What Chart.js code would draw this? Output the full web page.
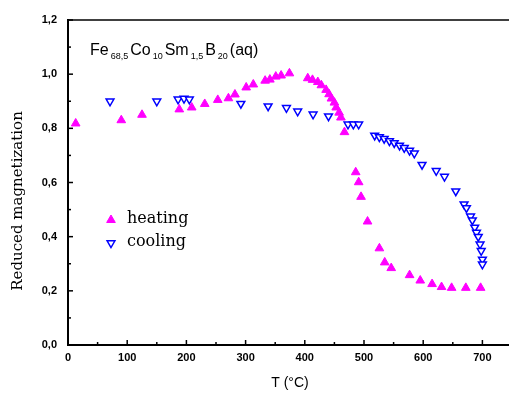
<!DOCTYPE html>
<html>
<head>
<meta charset="utf-8">
<script src="https://cdn.jsdelivr.net/npm/chart.js@4/dist/chart.umd.min.js"></script>
<style>
  html, body { margin: 0; padding: 0; background: #fff; overflow: hidden; }
  #wrap { width: 520px; height: 394px; }
</style>
</head>
<body>
<div id="wrap"><canvas id="magChart" width="520" height="394"></canvas></div>
<script>
// heating run (T in °C, reduced magnetization)
const heatingT = [13, 90, 125, 188, 209, 231, 253, 271, 282, 301, 313, 333, 341, 351, 360, 374,
    405, 413, 422, 428, 436, 441, 445, 450, 453, 458, 461, 467, 486, 491, 495, 506, 526, 535,
    546, 577, 595, 615, 631, 648, 672, 697];
const heatingM = [0.818, 0.83, 0.85, 0.87, 0.877, 0.89, 0.905, 0.911, 0.925, 0.951, 0.962, 0.976,
    0.98, 0.991, 0.995, 1.003, 0.985, 0.979, 0.971, 0.959, 0.942, 0.926, 0.91, 0.895, 0.877,
    0.858, 0.84, 0.786, 0.638, 0.601, 0.547, 0.456, 0.357, 0.305, 0.284, 0.258, 0.238, 0.225,
    0.214, 0.211, 0.211, 0.211];

// cooling run
const coolingT = [71, 150, 186, 196, 205, 292, 338, 369, 388, 414, 440, 473, 482, 491,
    518, 526, 534, 543, 551, 560, 568, 577, 585, 598, 622, 636, 655, 669, 673, 680, 683,
    687, 690, 693, 696, 698, 700, 700];
const coolingM = [0.90, 0.90, 0.907, 0.91, 0.907, 0.891, 0.882, 0.876, 0.863, 0.852, 0.845,
    0.815, 0.815, 0.815, 0.774, 0.768, 0.762, 0.753, 0.746, 0.737, 0.728, 0.718, 0.708,
    0.666, 0.643, 0.622, 0.568, 0.52, 0.506, 0.475, 0.461, 0.434, 0.415, 0.4, 0.372, 0.348,
    0.316, 0.298];

const seriesLabels = ['heating', 'cooling'];
const xTickLabels = ['0', '100', '200', '300', '400', '500', '600', '700'];
const yTickLabels = ['0,0', '0,2', '0,4', '0,6', '0,8', '1,0', '1,2'];

function toPoints(xs, ys) {
    return xs.map((x, i) => ({ x: x, y: ys[i] }));
}

// inward ticks, top frame line, formula and legend
const decorPlugin = {
    id: 'decor',
    afterDraw(chart) {
        const ctx = chart.ctx;
        const area = chart.chartArea;
        const xs = chart.scales.x, ys = chart.scales.y;
        ctx.save();
        ctx.strokeStyle = '#000';

        // top frame
        ctx.lineWidth = 1.5;
        ctx.beginPath();
        ctx.moveTo(area.left, area.top);
        ctx.lineTo(area.right, area.top);
        ctx.stroke();

        ctx.lineWidth = 1.5;
        for (let t = 0; t <= 750; t += 50) {
            const px = xs.getPixelForValue(t);
            const len = t % 100 === 0 ? 5 : 3;
            ctx.beginPath();
            ctx.moveTo(px, area.bottom);
            ctx.lineTo(px, area.bottom - len);
            ctx.stroke();
        }
        for (let k = 0; k <= 12; k++) {
            const py = ys.getPixelForValue(k / 10);
            const len = k % 2 === 0 ? 5 : 3;
            ctx.beginPath();
            ctx.moveTo(area.left, py);
            ctx.lineTo(area.left + len, py);
            ctx.stroke();
        }

        // y axis title
        ctx.fillStyle = '#000';
        ctx.font = '15px "DejaVu Serif"';
        ctx.textAlign = 'center';
        ctx.textBaseline = 'middle';
        ctx.translate(18, 201);
        ctx.rotate(-Math.PI / 2);
        ctx.fillText('Reduced magnetization', 0, 0);
        ctx.setTransform(1, 0, 0, 1, 0, 0);

        // sample formula
        const parts = [['Fe', false], ['68,5', true], ['Co', false], ['10', true],
            ['Sm', false], ['1,5', true], ['B', false], ['20', true], ['(aq)', false]];
        let x = 90;
        const base = 55;
        ctx.textAlign = 'left';
        ctx.textBaseline = 'alphabetic';
        parts.forEach(p => {
            ctx.font = p[1] ? '9px "Liberation Sans"' : '16px "Liberation Sans"';
            ctx.fillText(p[0], x, p[1] ? base + 4 : base);
            x += ctx.measureText(p[0]).width + 2;
        });

        // legend
        const rows = [[0, 220], [1, 243]];
        rows.forEach(r => {
            const ds = chart.data.datasets[r[0]];
            ctx.fillStyle = ds.backgroundColor;
            ctx.strokeStyle = ds.borderColor;
            ctx.lineWidth = ds.borderWidth;
            Chart.helpers.drawPoint(ctx, {
                pointStyle: 'triangle',
                rotation: ds.rotation || 0,
                radius: ds.pointRadius,
                borderWidth: ds.borderWidth
            }, 111, r[1]);
            ctx.fillStyle = '#000';
            ctx.font = '16px "DejaVu Serif"';
            ctx.textBaseline = 'middle';
            ctx.fillText(ds.label, 127, r[1] - 1);
        });
        ctx.restore();
    }
};

const ctx = document.getElementById('magChart').getContext('2d');
const magChart = new Chart(ctx, {
    type: 'scatter',
    data: {
        datasets: [{
            label: seriesLabels[0],
            data: toPoints(heatingT, heatingM),
            pointStyle: 'triangle',
            pointRadius: 5,
            backgroundColor: '#ff00ff',
            borderColor: '#ff00ff',
            borderWidth: 1
        }, {
            label: seriesLabels[1],
            data: toPoints(coolingT, coolingM),
            pointStyle: 'triangle',
            rotation: 180,
            pointRadius: 4.5,
            backgroundColor: '#ffffff',
            borderColor: '#0000ff',
            borderWidth: 1.5
        }]
    },
    options: {
        responsive: false,
        animation: false,
        devicePixelRatio: 1,
        layout: { padding: { top: 20, right: 8, left: 0, bottom: 0 } },
        plugins: {
            legend: { display: false },
            tooltip: { enabled: false }
        },
        scales: {
            x: {
                type: 'linear',
                min: 0,
                max: 750,
                afterFit: function(scale) { scale.height = 49; },
                grid: { display: false, drawTicks: false },
                border: { display: true, color: '#000', width: 2 },
                ticks: {
                    stepSize: 100,
                    padding: 6,
                    color: '#000',
                    font: { family: 'Liberation Sans', size: 11, weight: 'bold' },
                    callback: function(v) {
                        const i = Math.round(v / 100);
                        return xTickLabels[i] !== undefined && v % 100 === 0 ? xTickLabels[i] : '';
                    }
                },
                title: {
                    display: true,
                    text: 'T (°C)',
                    color: '#000',
                    font: { family: 'Liberation Sans', size: 14 },
                    padding: { top: 0, bottom: 2 }
                }
            },
            y: {
                min: 0,
                max: 1.2,
                afterFit: function(scale) { scale.width = 68; },
                grid: { display: false, drawTicks: false },
                border: { display: true, color: '#000', width: 2 },
                ticks: {
                    stepSize: 0.2,
                    padding: 11,
                    color: '#000',
                    font: { family: 'Liberation Sans', size: 11, weight: 'bold' },
                    callback: function(v) {
                        return yTickLabels[Math.round(v * 5)];
                    }
                }
            }
        }
    },
    plugins: [decorPlugin]
});
</script>
</body>
</html>
